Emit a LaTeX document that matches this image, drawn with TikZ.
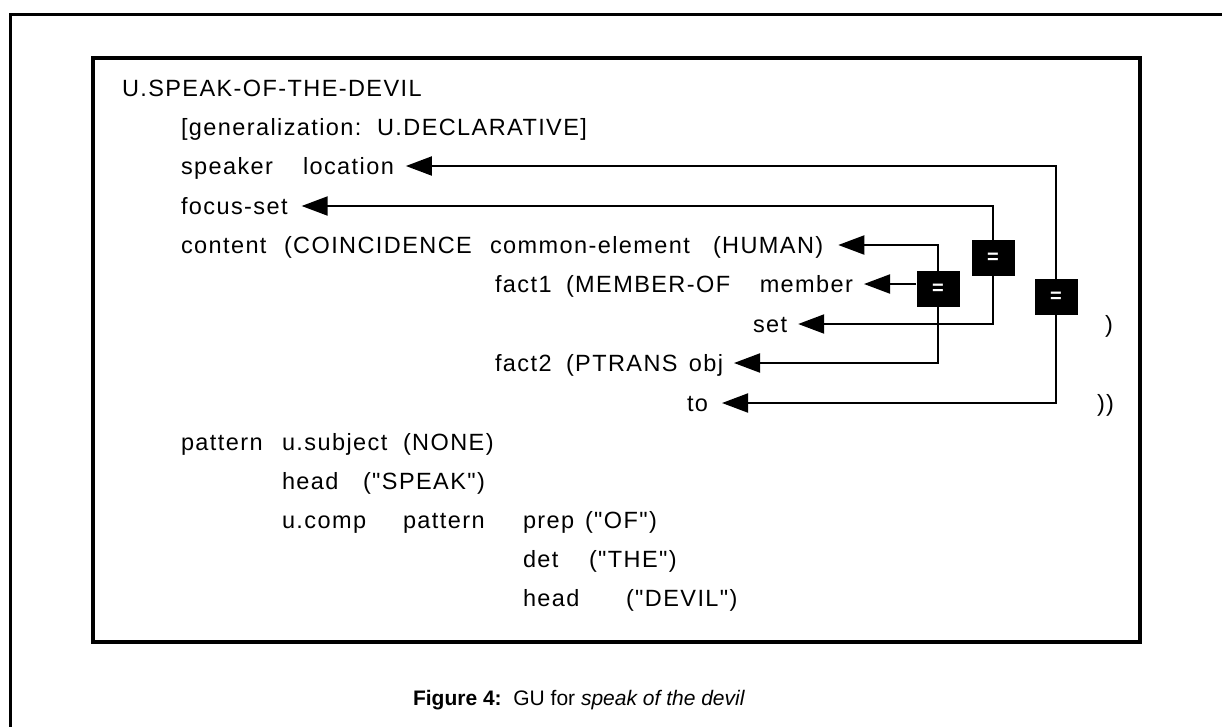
\documentclass[tikz,border=0pt]{standalone}
\usepackage{fontspec}
\setmainfont{Liberation Sans}
\newfontfamily\gufont{Liberation Sans}[LetterSpace=6]
\usetikzlibrary{arrows.meta}
\tikzset{
  txt/.style={inner sep=0pt, outer sep=0pt, anchor=base west,
    font=\gufont\fontsize{23.5}{28}\selectfont, text height=17pt, text depth=1pt},
  txtR/.style={txt, anchor=base east},
  conn/.style={line width=2pt},
  tip/.tip={Triangle[length=26pt,width=19pt]},
  eqbox/.style={fill=black, minimum width=43pt, minimum height=36pt, inner sep=0pt,
    text=white, font=\bfseries\fontsize{20}{20}\selectfont},
  frame/.style={line width=4pt},
  outer/.style={line width=3pt}
}
\begin{document}
\begin{tikzpicture}[x=1pt,y=-1pt]
\useasboundingbox (0,0) rectangle (1222,726);
% outer frame (top and left)
\draw[outer] (10,730) -- (10,14) -- (1226,14);
% inner box
\draw[frame] (93,58) rectangle (1140,642);

% vertical line x positions
\coordinate (cR) at (1056,0);
\coordinate (cM) at (993,0);
\coordinate (cI) at (938,0);

% rows
\node[txt] (title) at (122,96) {U.SPEAK-OF-THE-DEVIL};
\node[txt] (gen) at (181,135) {[generalization:\hspace{5pt} U.DECLARATIVE]};
\node[txt] (speaker) at (181,174) {speaker};
\node[txt] (location) at (303,174) {location};
\node[txt] (focus) at (181,214) {focus-set};
\node[txt] (content) at (181,253) {content};
\node[txt] (coinc) at (284,253) {(COINCIDENCE};
\node[txt] (common) at (490,253) {common-element};
\node[txt] (human) at (713,253) {(HUMAN)};
\node[txt] (fact1) at (495,292) {fact1};
\node[txt] (memberof) at (566,292) {(MEMBER-OF};
\node[txtR] (member) at (853,292) {member};
\node[txt] (set) at (753,332) {set};
\node[txt] (par1) at (1105,332) {)};
\node[txt] (fact2) at (495,371) {fact2};
\node[txt] (ptrans) at (566,371) {(PTRANS};
\node[txtR] (obj) at (723,371) {obj};
\node[txt] (to) at (687,411) {to};
\node[txt] (par2) at (1097,411) {))};

\node[txt] (pattern) at (181,450) {pattern};
\node[txt] (usubj) at (282,450) {u.subject};
\node[txt] (none) at (403,450) {(NONE)};
\node[txt] (head1) at (282,489) {head};
\node[txt] (speak) at (363,489) {("SPEAK")};
\node[txt] (ucomp) at (282,528) {u.comp};
\node[txt] (pattern2) at (403,528) {pattern};
\node[txt] (prep) at (523,528) {prep};
\node[txt] (of) at (585,528) {("OF")};
\node[txt] (det) at (523,567) {det};
\node[txt] (the) at (589,567) {("THE")};
\node[txt] (head2) at (523,606) {head};
\node[txt] (devil) at (626,606) {("DEVIL")};

% connectors
\draw[conn,{tip}-{tip}] ([xshift=12pt]location.east) -- (location.east -| cR)
  -- (to.east -| cR) -- ([xshift=14pt]to.east);
\draw[conn,{tip}-{tip}] ([xshift=14pt]focus.east) -- (focus.east -| cM)
  -- (set.east -| cM) -- ([xshift=11pt]set.east);
\draw[conn,{tip}-{tip}] ([xshift=15pt]human.east) -- (human.east -| cI)
  -- (obj.east -| cI) -- ([xshift=11pt]obj.east);

% equality boxes
\node[eqbox] (eq1) at (993,258) {=};
\node[eqbox] (eq2) at (938,289) {=};
\node[eqbox] (eq3) at (1056,297) {=};
\draw[conn,-{tip}] (eq2.west |- member.east) -- ([xshift=11pt]member.east);

% caption
\node[anchor=base, inner sep=0pt, font=\fontsize{21}{25}\selectfont] (cap) at (579,705)
  {\textbf{Figure 4:}\ \ GU for \textit{speak of the devil}};
\end{tikzpicture}
\end{document}
